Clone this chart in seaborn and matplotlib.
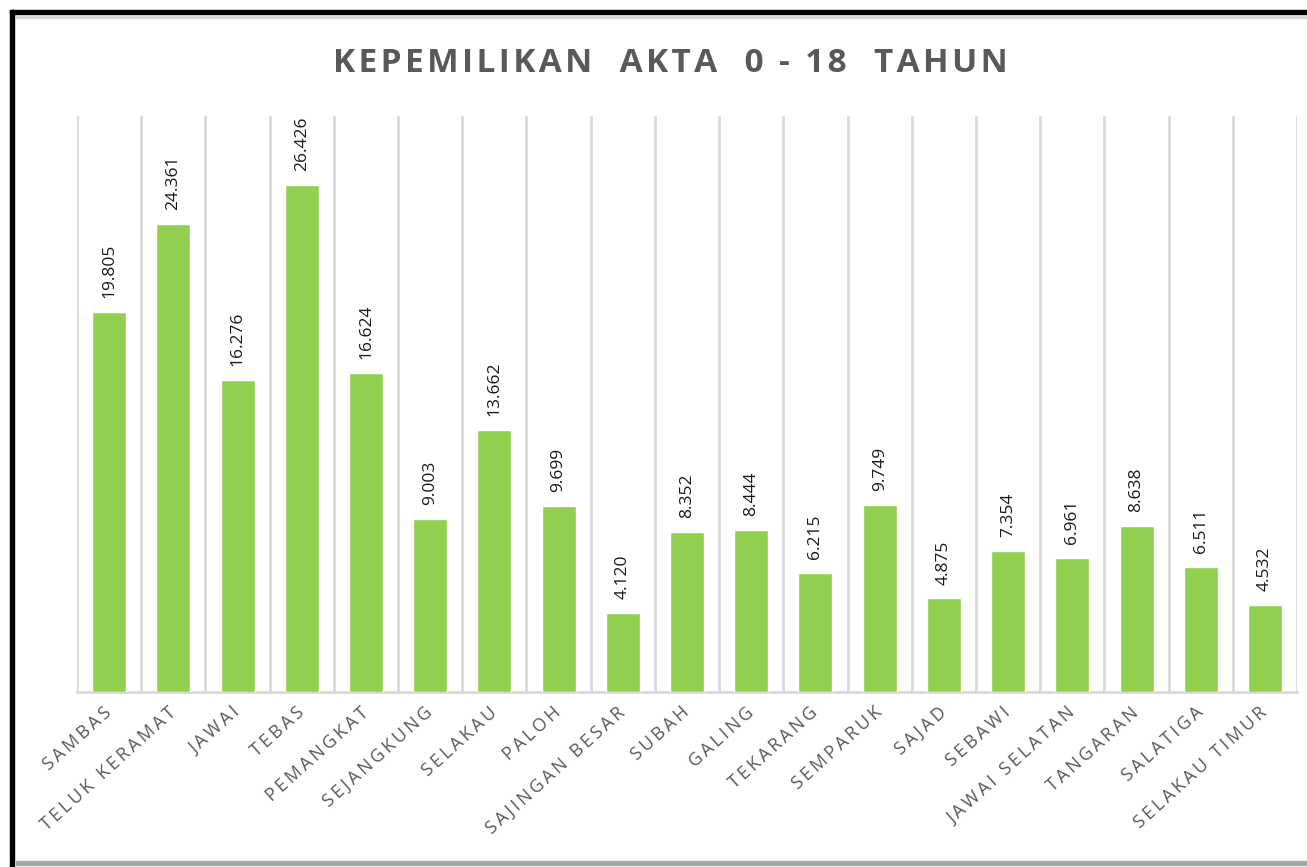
import numpy as np
import pandas as pd
import matplotlib
matplotlib.use("Agg")
import matplotlib.pyplot as plt
import seaborn as sns
from matplotlib.patches import Rectangle

# data
kecamatan = ["SAMBAS", "TELUK KERAMAT", "JAWAI", "TEBAS", "PEMANGKAT", "SEJANGKUNG",
             "SELAKAU", "PALOH", "SAJINGAN BESAR", "SUBAH", "GALING", "TEKARANG",
             "SEMPARUK", "SAJAD", "SEBAWI", "JAWAI SELATAN", "TANGARAN", "SALATIGA",
             "SELAKAU TIMUR"]
jumlah = [19805, 24361, 16276, 26426, 16624, 9003, 13662, 9699, 4120, 8352,
          8444, 6215, 9749, 4875, 7354, 6961, 8638, 6511, 4532]
judul = "KEPEMILIKAN  AKTA  0 - 18  TAHUN"


def spaced(s, gap):
    # widen the letter spacing like the original Excel chart
    return gap.join(s)


df = pd.DataFrame({"kecamatan": kecamatan, "jumlah": jumlah})

sns.set_theme(style="white")
plt.rcParams['font.family'] = ['Open Sans', 'DejaVu Sans']

fig = plt.figure(figsize=(13.07, 8.67), dpi=100)
ax = fig.add_axes([0.0589, 0.2018, 0.9335, 0.6644])

sns.barplot(data=df, x="kecamatan", y="jumlah", color="#92D050", width=0.53,
            saturation=1, ax=ax, zorder=3)

ax.set_xlim(-0.5, len(kecamatan) - 0.5)
ax.set_ylim(0, 30000)

# vertical gridlines between categories
ax.set_xticks(np.arange(-0.5, len(kecamatan)), minor=True)
ax.grid(axis="x", which="minor", color="#D9D9D9", linewidth=2, zorder=0)
ax.grid(axis="x", which="major", visible=False)
ax.tick_params(axis="x", which="both", length=0)
ax.set_yticks([])

for s in ["top", "right", "left"]:
    ax.spines[s].set_visible(False)
ax.spines["bottom"].set_color("#D9D9D9")
ax.spines["bottom"].set_linewidth(2)

ax.set_xlabel("")
ax.set_ylabel("")
ax.set_xticks(range(len(kecamatan)))
ax.set_xticklabels([spaced(k, "\u2009") for k in kecamatan], rotation=42, ha="right",
                   va="center", rotation_mode="anchor", color="#595959", fontsize=13)
ax.tick_params(axis="x", pad=13)

labels = [f"{v:,}".replace(",", ".") for v in jumlah]
ax.bar_label(ax.containers[0], labels=labels, rotation=90, padding=10,
             fontsize=12.5, color="#1a1a1a")

fig.text(0.513, 0.927, spaced(judul, "\u200a"), ha="center", va="center", fontsize=24,
         fontweight="bold", color="#595959")

# chart frame
fig.patches.append(Rectangle((10 / 1307, 0), 4 / 1307, 857 / 867, transform=fig.transFigure,
                             color="black", zorder=10))
fig.patches.append(Rectangle((10 / 1307, 853 / 867), 1297 / 1307, 4 / 867,
                             transform=fig.transFigure, color="black", zorder=10))
fig.patches.append(Rectangle((16 / 1307, 849 / 867), 1291 / 1307, 2 / 867,
                             transform=fig.transFigure, color="#D9D9D9", zorder=10))
fig.patches.append(Rectangle((16 / 1307, 2 / 867), 1291 / 1307, 4 / 867,
                             transform=fig.transFigure, color="#A6A6A6", zorder=10))

fig.savefig("out.png", dpi=100)
